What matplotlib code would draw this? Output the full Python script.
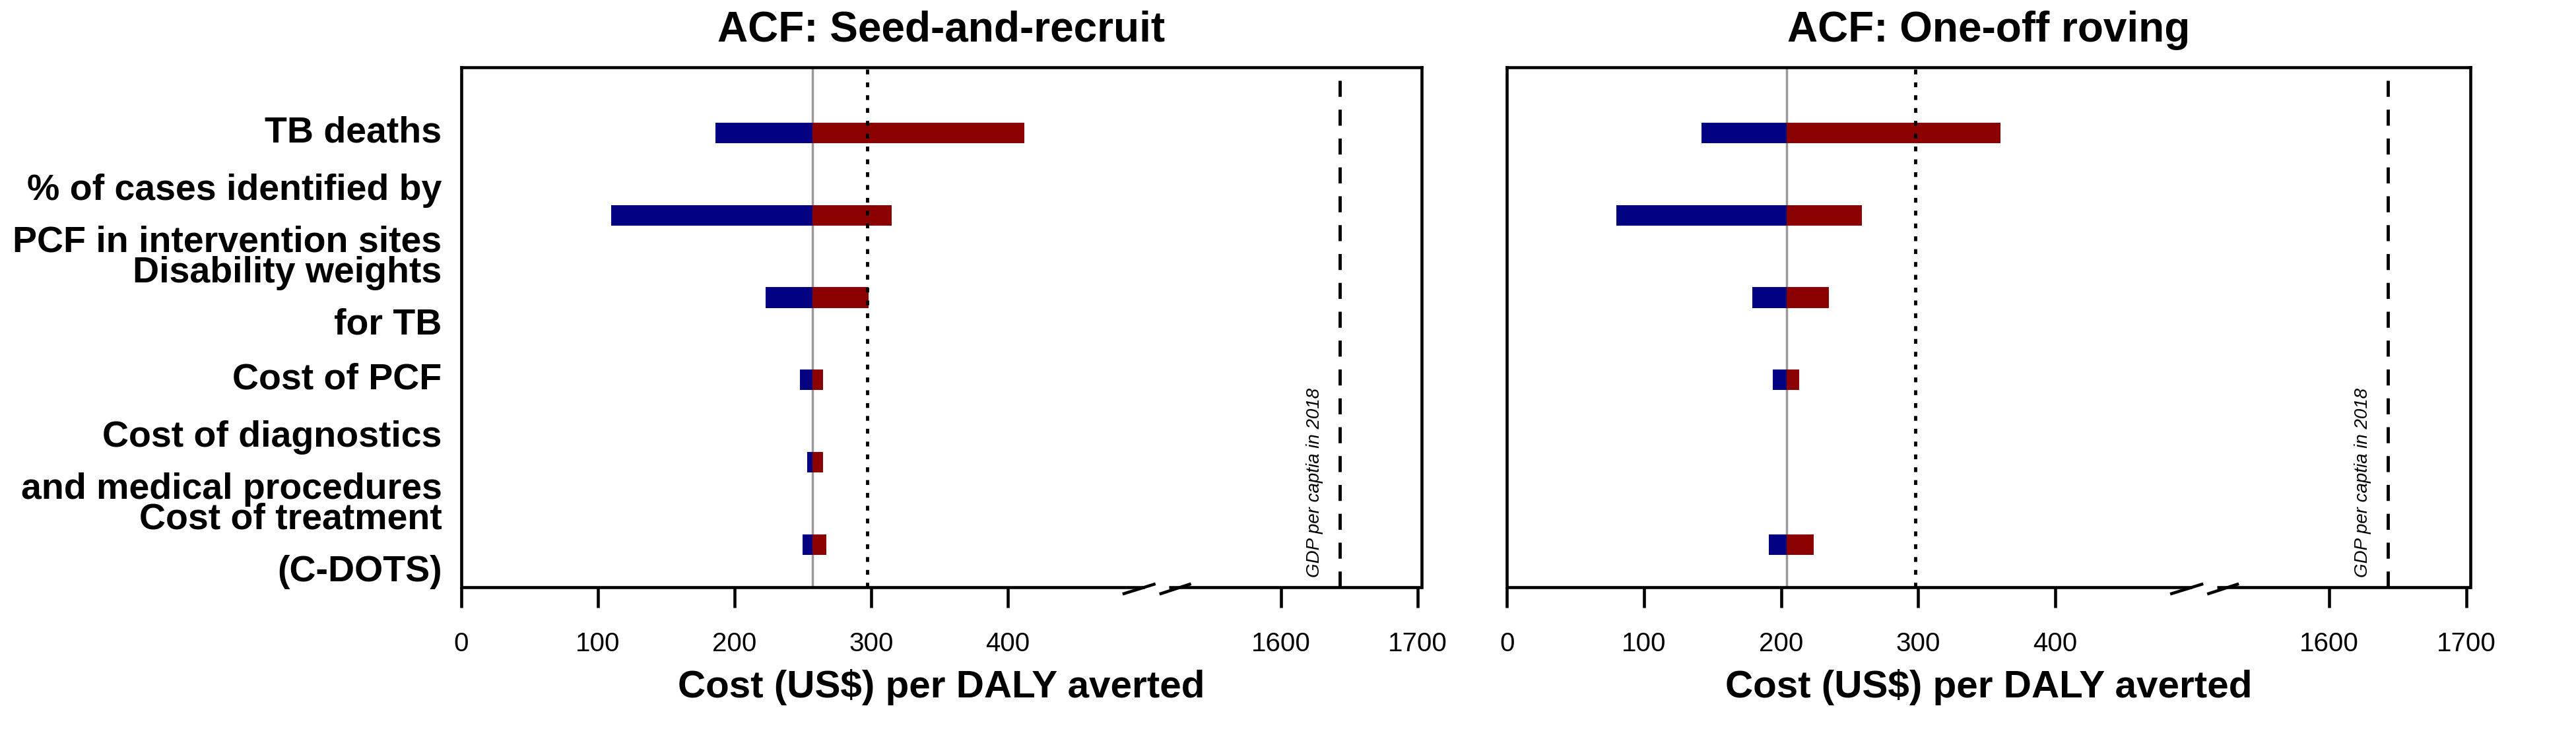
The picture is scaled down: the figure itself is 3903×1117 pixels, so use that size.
import matplotlib
matplotlib.use("Agg")
import matplotlib.pyplot as plt
import numpy as np

plt.rcParams['font.family'] = ['Liberation Sans', 'DejaVu Sans']

params = ["TB deaths", "% of cases identified by\nPCF in intervention sites", "Disability weights\nfor TB",
          "Cost of PCF", "Cost of diagnostics\nand medical procedures", "Cost of treatment\n(C-DOTS)"]
titles = ["ACF: Seed-and-recruit", "ACF: One-off roving"]
base_sr = 257
low_sr = [186, 110, 223, 248, 253, 250]
high_sr = [412, 315, 298, 265, 265, 267]
base_ro = 204
low_ro = [142, 80, 179, 194, None, 191]
high_ro = [360, 259, 235, 213, None, 224]
threshold = [297, 298]
gdp = 1643
xticks = [0, 100, 200, 300, 400, 1600, 1700]

def tr(v):
    return v if v < 1000 else v - 1000

fig = plt.figure(figsize=(39.03, 11.17), dpi=100)
axes = [fig.add_axes([0.179, 0.203, 0.373, 0.706]), fig.add_axes([0.585, 0.203, 0.374, 0.706])]
navy, dred = '#000080', '#8B0000'
data = [(base_sr, low_sr, high_sr), (base_ro, low_ro, high_ro)]
for k, ax in enumerate(axes):
    base, low, high = data[k]
    for i in range(len(params)):
        if low[i] is None:
            continue
        ax.barh(i, low[i] - base, left=base, height=0.25, color=navy)
        ax.barh(i, high[i] - base, left=base, height=0.25, color=dred)
    ax.axvline(base, color='#999999', lw=2.5, zorder=0)
    ax.axvline(threshold[k], color='black', lw=3.5, ls=(0, (1.5, 2.5)))
    ax.axvline(tr(gdp), color='black', lw=3.5, ls=(0, (5, 4)))
    ax.text(tr(gdp) - 12, 5.4, "GDP per captia in 2018", rotation=90, ha='right', va='bottom',
            fontsize=20, style='italic')
    ax.set_xlim(0, 703)
    ax.set_ylim(5.52, -0.8)
    ax.set_yticks([])
    ax.set_xticks([tr(v) for v in xticks])
    ax.set_xticklabels([str(v) for v in xticks], fontsize=29)
    ax.tick_params(axis='x', length=22, width=3.3, pad=26)
    for s in ['left', 'top', 'right']:
        ax.spines[s].set_linewidth(3.3)
    ax.spines['bottom'].set_visible(False)
    trans = ax.get_xaxis_transform()
    ax.plot([0, 500], [0, 0], color='black', lw=3.3, transform=trans, clip_on=False, solid_capstyle='butt')
    ax.plot([518, 703], [0, 0], color='black', lw=3.3, transform=trans, clip_on=False, solid_capstyle='butt')
    ax.plot([485, 507], [-0.012, 0.006], color='black', lw=3.3, transform=trans, clip_on=False)
    ax.plot([512, 533], [-0.012, 0.006], color='black', lw=3.3, transform=trans, clip_on=False)
    ax.set_title(titles[k], fontsize=46, fontweight='bold', pad=28)
    ax.set_xlabel("Cost (US$) per DALY averted", fontsize=42, fontweight='bold', labelpad=14)

ax = axes[0]
for i, p in enumerate(params):
    lines = p.split("\n")
    if len(lines) == 1:
        ax.text(-0.02, i, lines[0], transform=ax.get_yaxis_transform(), ha='right', va='center',
                fontsize=40, fontweight='bold')
    else:
        ax.text(-0.02, i - 0.3, lines[0], transform=ax.get_yaxis_transform(), ha='right', va='center',
                fontsize=40, fontweight='bold')
        ax.text(-0.02, i + 0.33, lines[1], transform=ax.get_yaxis_transform(), ha='right', va='center',
                fontsize=40, fontweight='bold')

fig.savefig("out.png", dpi=100)
